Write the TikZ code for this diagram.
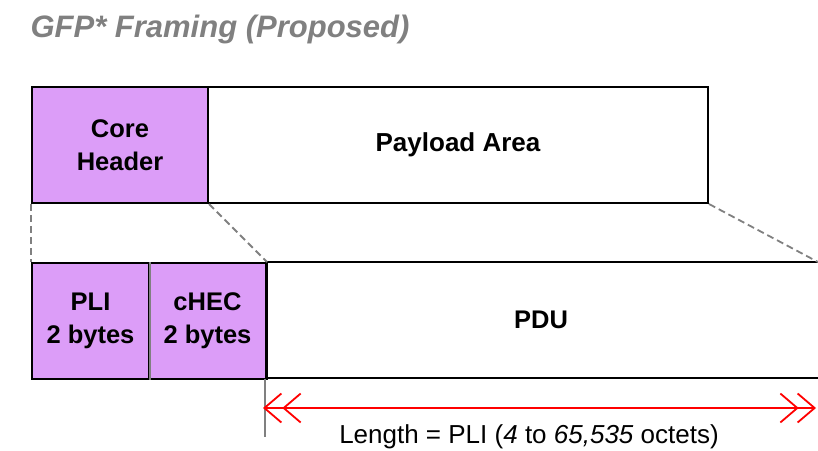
\documentclass[tikz,border=0pt]{standalone}
\usepackage{fontspec}
\setmainfont{Liberation Sans}
\usetikzlibrary{arrows.meta}
\definecolor{hdrfill}{RGB}{220,157,248}
\definecolor{titlegray}{RGB}{128,128,128}
\definecolor{linkgray}{RGB}{128,128,128}
\definecolor{lenred}{RGB}{255,0,0}
\begin{document}
\begin{tikzpicture}[x=1pt,y=-1pt,
  field/.style={draw=black,line width=2pt,inner sep=0pt,anchor=north west,align=center,
    font=\fontsize{25.5}{33}\selectfont\bfseries},
  hdr/.style={field,fill=hdrfill},
  link/.style={draw=linkgray,line width=1.8pt,dash pattern=on 7pt off 4pt},
  barb/.tip={Straight Barb[length=17pt,width=29pt,line width=1.8pt]}]
\useasboundingbox (0,0) rectangle (818,450);
\node[anchor=west,text=titlegray,font=\fontsize{31}{36}\selectfont\bfseries\itshape] (title) at (27,29) {GFP* Framing (Proposed)};
% outer frame
\node[hdr,minimum width=176pt,minimum height=116pt] (core) at (31,86) {Core\\Header};
\node[field,minimum width=500pt,minimum height=116pt,font=\fontsize{26}{33}\selectfont\bfseries] (payload) at (207,86) {Payload Area};
% inner structure of the GFP frame
\node[hdr,minimum width=117pt,minimum height=116pt] (pli) at (31,262) {PLI\\2 bytes};
\node[hdr,minimum width=117pt,minimum height=116pt] (chec) at (148,262) {cHEC\\2 bytes};
\draw[linkgray,line width=1.6pt] (pli.north east) -- (pli.south east);
\draw[black,line width=2pt] (265,262) -- (820,262) (265,378) -- (820,378);
\node[font=\fontsize{25.5}{30}\selectfont\bfseries] (pdu) at (541,320) {PDU};
\draw[black,line width=2pt] (chec.north east) -- (chec.south east);
% expansion guides
\draw[link] (core.south west) -- (pli.north west);
\draw[link] (core.south east) -- (chec.north east);
\coordinate (pduNE) at (818,262);
\draw[link] (payload.south east) -- (pduNE);
% length indicator
\coordinate (lenTop) at (265,379);
\coordinate (lenBot) at (265,437);
\draw[linkgray,line width=1.6pt] (lenTop) -- (lenBot);
\coordinate (lenL) at (265,408);
\coordinate (lenR) at (816,408);
\draw[lenred,line width=1.6pt,{barb[sep=-2pt]barb}-{barb[sep=-2pt]barb}] (lenL) -- (lenR);
\node[font=\fontsize{26}{30}\selectfont] (lenlabel) at (529,437) {Length = PLI (\textit{4} to \textit{65,535} octets)};
\end{tikzpicture}
\end{document}
